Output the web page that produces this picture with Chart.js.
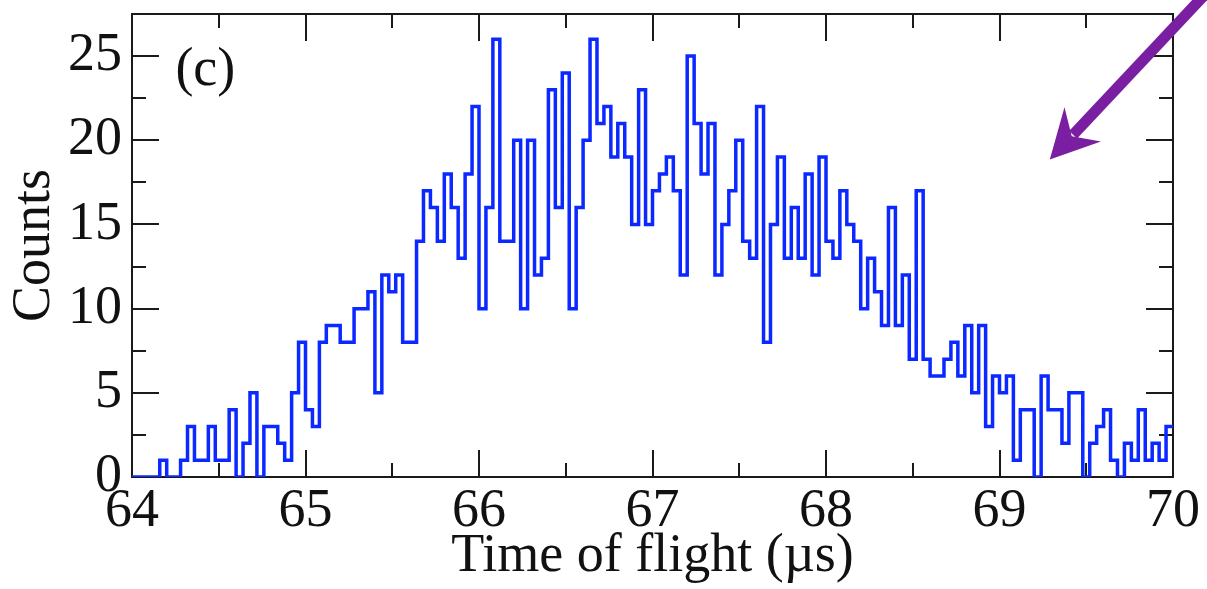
<!DOCTYPE html>
<html><head><meta charset="utf-8">
<script src="https://cdn.jsdelivr.net/npm/chart.js@4"></script>
<style>html,body{margin:0;padding:0;background:#fff;} canvas{display:block;}</style>
</head><body>
<canvas id="chart" width="1207" height="589"></canvas>
<script>
// ---- data ----
const BIN_START = 64.0;
const BIN_WIDTH = 0.04;
const counts = [
  0,0,0,0,1,0,0,1,3,1, 1,3,1,1,4,0,2,5,0,3,
  3,2,1,5,8,4,3,8,9,9, 8,8,10,10,11,5,12,11,12,8,
  8,14,17,16,14,18,16,13,18,22, 10,16,26,14,14,20,10,20,12,13,
  23,16,24,10,16,20,26,21,22,19, 21,19,15,23,15,17,18,19,17,12,
  25,21,18,21,12,15,17,20,14,13, 22,8,15,19,13,16,13,18,12,19,
  14,13,17,15,14,10,13,11,9,16, 9,12,7,17,7,6,6,7,8,6,
  9,5,9,3,6,5,6,1,4,4, 0,6,4,4,2,5,5,0,2,3,
  4,1,0,2,1,4,1,2,1,3
];
const xTickLabels = ['64','65','66','67','68','69','70'];
const yTickLabels = ['0','5','10','15','20','25'];
const xTitle = 'Time of flight (\u00b5s)';
const yTitle = 'Counts';
const panelLabel = '(c)';
const X_MIN = 64, X_MAX = 70, Y_MIN = 0, Y_MAX = 27.5;
const X_MAJOR = 1, X_MINOR = 0.5, Y_MAJOR = 5, Y_MINOR = 2.5;
const labelPos = {x: 64.25, y: 24.1};
const arrowTip = {x: 69.29, y: 18.86};
const arrowTail = {x: 70.27, y: 29.6};

// ---- styles ----
const FONT = '"Liberation Serif", "Times New Roman", serif';
const BLUE = 'rgb(10,40,255)';
const PURPLE = '#7a1fa2';
const INK = '#111';

const points = counts.map((c, i) => ({x: BIN_START + i * BIN_WIDTH, y: c}));
points.push({x: BIN_START + counts.length * BIN_WIDTH, y: counts[counts.length - 1]});

function isMajor(v, step) { return Math.abs(v / step - Math.round(v / step)) < 1e-6; }

const framePlugin = {
  id: 'frame',
  beforeDatasetsDraw(chart) {
    const {ctx, chartArea: {left, right, top, bottom}, scales: {x, y}} = chart;
    ctx.save();
    ctx.strokeStyle = '#1a1a1a';
    ctx.lineWidth = 2;
    ctx.strokeRect(left, top, right - left, bottom - top);
    ctx.beginPath();
    x.ticks.forEach(t => {
      if (t.value <= X_MIN || t.value >= X_MAX) return;
      const px = Math.round(x.getPixelForValue(t.value));
      const L = isMajor(t.value, X_MAJOR) ? 27 : 14;
      ctx.moveTo(px, bottom); ctx.lineTo(px, bottom - L);
      ctx.moveTo(px, top); ctx.lineTo(px, top + L);
    });
    y.ticks.forEach(t => {
      if (t.value <= Y_MIN || t.value >= Y_MAX) return;
      const py = Math.round(y.getPixelForValue(t.value));
      const L = isMajor(t.value, Y_MAJOR) ? 27 : 14;
      ctx.moveTo(left, py); ctx.lineTo(left + L, py);
      ctx.moveTo(right, py); ctx.lineTo(right - L, py);
    });
    ctx.stroke();
    ctx.restore();
  },
  afterDraw(chart) {
    const {ctx, scales: {x, y}} = chart;
    ctx.save();
    // panel label
    ctx.fillStyle = INK;
    ctx.font = '54px ' + FONT;
    ctx.textAlign = 'left';
    ctx.textBaseline = 'middle';
    ctx.fillText(panelLabel, x.getPixelForValue(labelPos.x), y.getPixelForValue(labelPos.y));
    // arrow
    const tx = x.getPixelForValue(arrowTip.x), ty = y.getPixelForValue(arrowTip.y);
    const sx = x.getPixelForValue(arrowTail.x), sy = y.getPixelForValue(arrowTail.y);
    const dx = sx - tx, dy = sy - ty, len = Math.hypot(dx, dy);
    const ux = dx / len, uy = dy / len, nx = -uy, ny = ux;
    const headLen = 48, headHalf = 25, notch = 32;
    ctx.strokeStyle = PURPLE;
    ctx.fillStyle = PURPLE;
    ctx.lineWidth = 11;
    ctx.beginPath();
    ctx.moveTo(sx, sy);
    ctx.lineTo(tx + ux * (notch + 2), ty + uy * (notch + 2));
    ctx.stroke();
    ctx.beginPath();
    ctx.moveTo(tx, ty);
    ctx.lineTo(tx + ux * headLen + nx * headHalf, ty + uy * headLen + ny * headHalf);
    ctx.lineTo(tx + ux * notch, ty + uy * notch);
    ctx.lineTo(tx + ux * headLen - nx * headHalf, ty + uy * headLen - ny * headHalf);
    ctx.closePath();
    ctx.fill();
    ctx.restore();
  }
};

new Chart(document.getElementById('chart'), {
  type: 'line',
  data: {
    datasets: [{
      data: points,
      stepped: true,
      borderColor: BLUE,
      borderWidth: 3.5,
      pointRadius: 0,
      fill: false,
      tension: 0,
      borderJoinStyle: 'miter'
    }]
  },
  options: {
    responsive: false,
    animation: false,
    devicePixelRatio: 1,
    layout: {padding: {top: 14, right: 34, left: 0, bottom: 0}},
    plugins: {legend: {display: false}, tooltip: {enabled: false}},
    scales: {
      x: {
        type: 'linear', min: X_MIN, max: X_MAX,
        grid: {display: false, drawTicks: false},
        border: {display: false},
        ticks: {
          stepSize: X_MINOR, autoSkip: false, maxRotation: 0, padding: 8,
          color: INK, font: {family: FONT, size: 54, lineHeight: 1},
          callback: v => { const i = xTickLabels.indexOf(String(v)); return isMajor(v, X_MAJOR) && i >= 0 ? xTickLabels[i] : ''; }
        },
        title: {display: true, text: xTitle, color: INK, font: {family: FONT, size: 54, lineHeight: 1}, padding: {top: 0, bottom: 5}},
        afterFit: s => { s.height = 112; s.paddingLeft = 0; s.paddingRight = 0; }
      },
      y: {
        type: 'linear', min: Y_MIN, max: Y_MAX,
        grid: {display: false, drawTicks: false},
        border: {display: false},
        ticks: {
          stepSize: Y_MINOR, autoSkip: false, padding: 10,
          color: INK, font: {family: FONT, size: 54, lineHeight: 1},
          callback: v => { const i = yTickLabels.indexOf(String(v)); return isMajor(v, Y_MAJOR) && i >= 0 ? yTickLabels[i] : ''; }
        },
        title: {display: true, text: yTitle, color: INK, font: {family: FONT, size: 54, lineHeight: 1}, padding: {top: 8, bottom: 0}},
        afterFit: s => { s.width = 132; s.paddingTop = 0; s.paddingBottom = 0; }
      }
    }
  },
  plugins: [framePlugin]
});
</script>
</body></html>
